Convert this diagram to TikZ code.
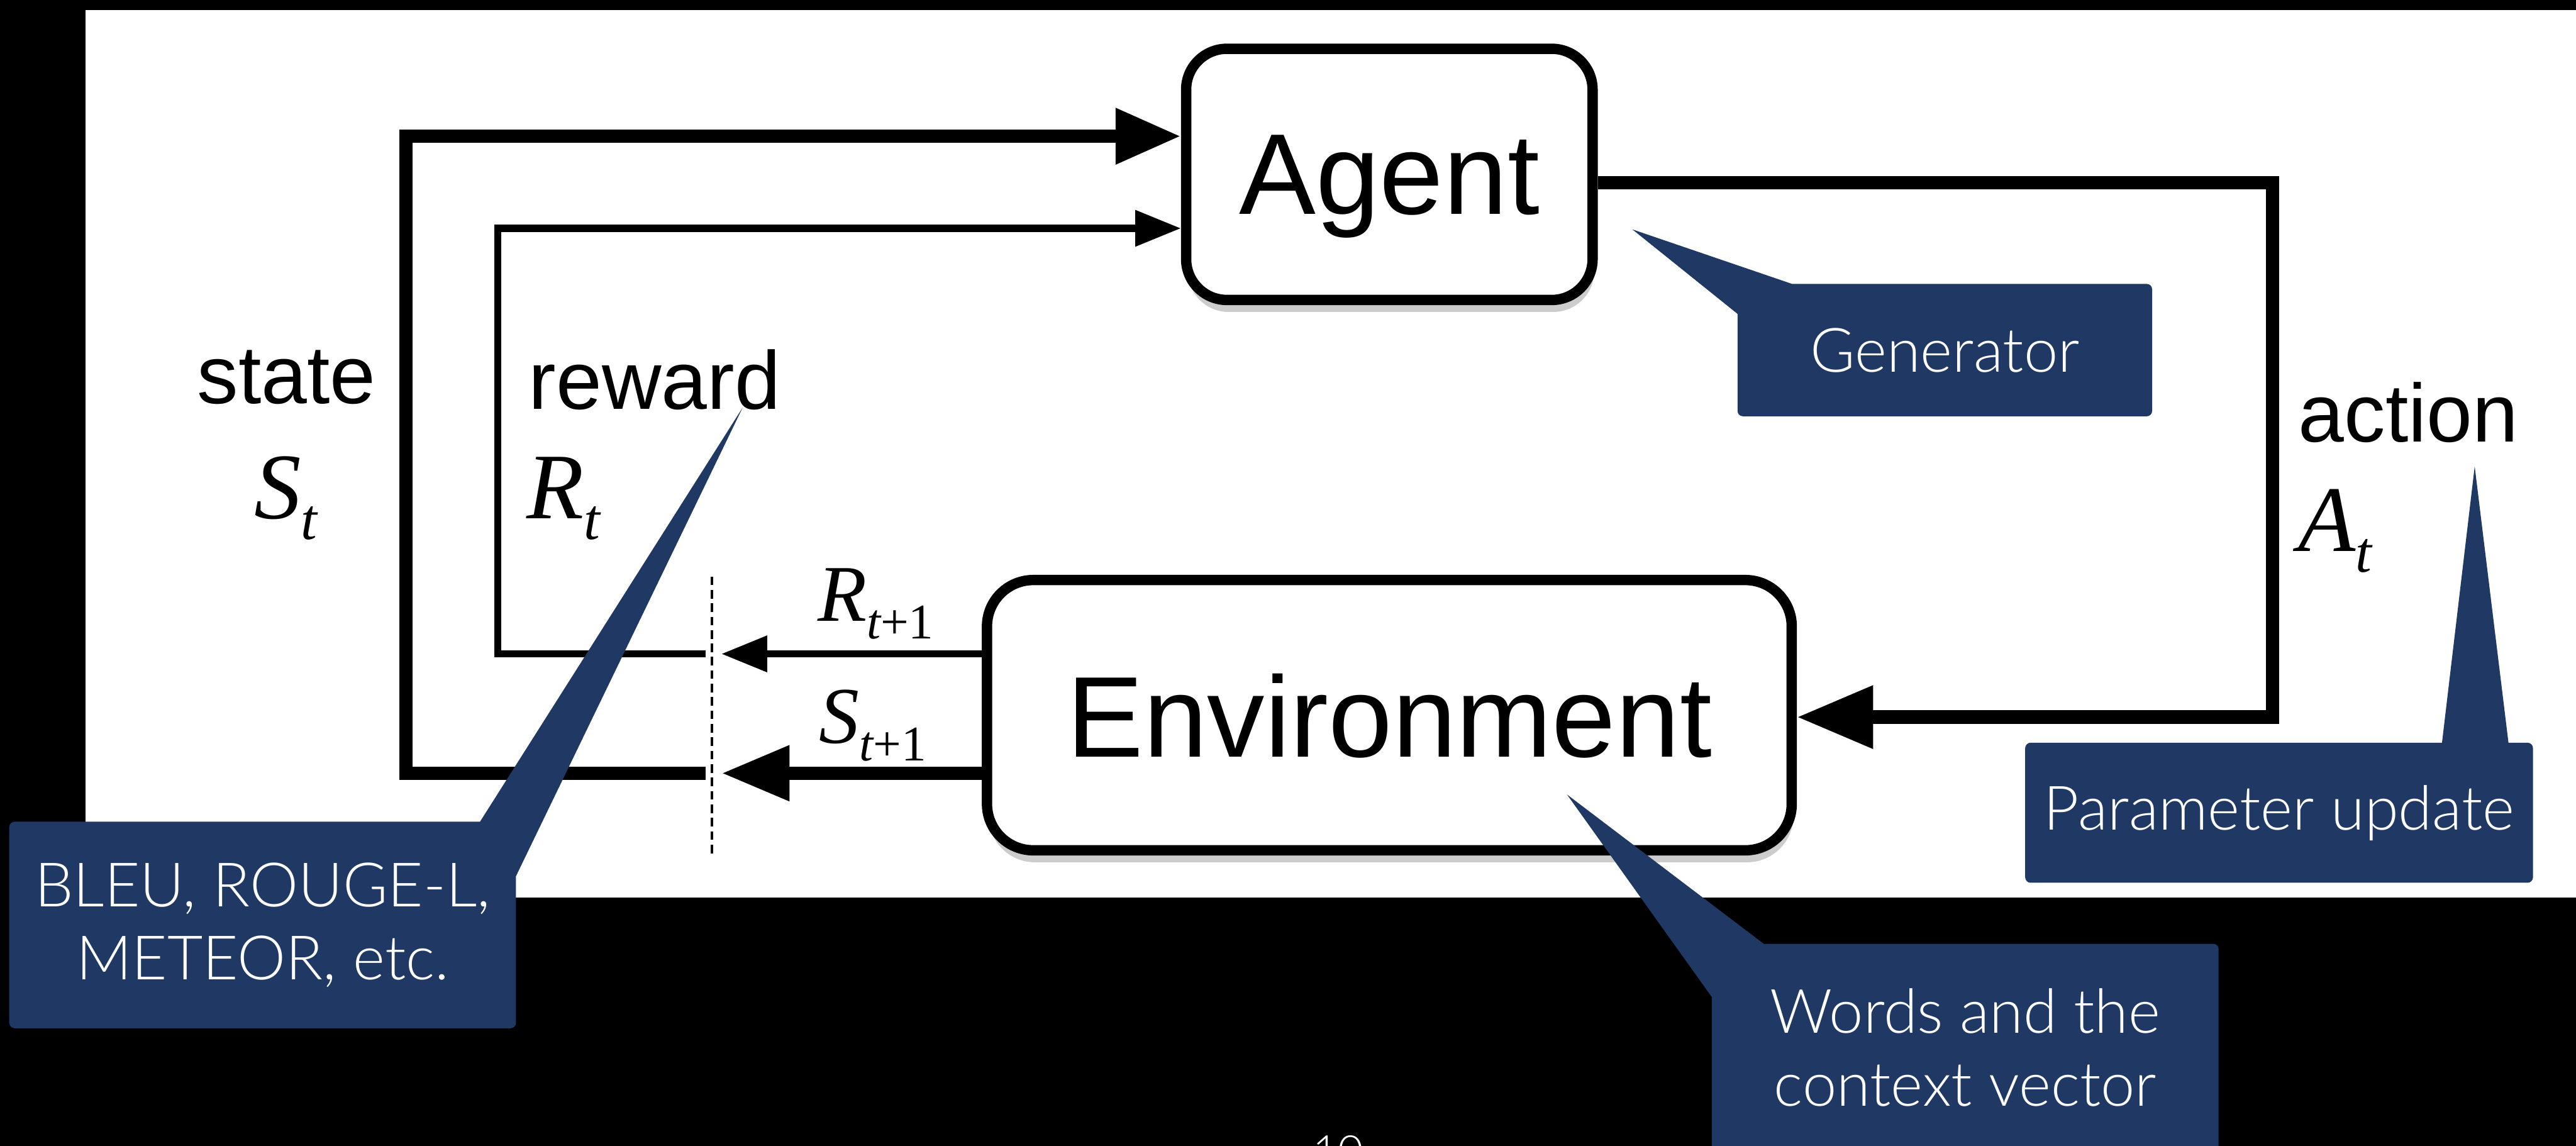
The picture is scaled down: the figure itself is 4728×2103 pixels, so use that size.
\documentclass[tikz,border=0pt]{standalone}
\usepackage{fontspec}
\setmainfont{Liberation Sans}
\newfontfamily\varfont{Liberation Serif}
\newfontfamily\calloutfont{Lato Light}
\usetikzlibrary{arrows.meta,positioning,shadows}
\definecolor{calloutblue}{RGB}{31,56,100}
% italic symbol with a lowered subscript
\newcommand{\rlvar}[2]{{\itshape #1}\raisebox{-0.22em}{\scalebox{0.62}{\itshape #2}}}

\begin{document}
\begin{tikzpicture}[x=0.1mm, y=-0.1mm,
  rlbox/.style={draw, line width=5.4pt, fill=white, inner sep=0pt, text depth=0pt,
    font=\fontsize{60}{72}\selectfont,
    drop shadow={shadow xshift=0.3mm, shadow yshift=-2.2mm, opacity=0.2, fill=black}},
  lbl/.style={inner sep=0pt, font=\fontsize{43}{50}\selectfont},
  varlbl/.style={inner sep=0pt, font=\varfont\fontsize{49}{56}\selectfont},
  smallvar/.style={inner sep=0pt, font=\varfont\fontsize{42}{48}\selectfont},
  thickarrow/.style={line width=7pt, -{Triangle[length=12.5mm, width=9.6mm]}},
  thinarrow/.style={line width=3.7pt, -{Triangle[length=8.4mm, width=6.4mm]}},
  cutline/.style={line width=1.4pt, dash pattern=on 4.5pt off 2.5pt},
  callout/.style={fill=calloutblue, text=white, rounded corners=1mm, inner sep=0pt,
    outer sep=0pt, align=center, font=\calloutfont\fontsize{32}{38}\selectfont},
  callouttail/.style={fill=calloutblue}]

\useasboundingbox (0,0) rectangle (4728,2103);
\clip (0,0) rectangle (4728,2103);
\fill[black] (0,0) rectangle (4728,2103);
\fill[white] (157,19) rectangle (4728,1647);

% agent and environment
\node[rlbox, minimum width=74.6mm, minimum height=46.1mm, rounded corners=7.5mm] (agent) at (2550,320) {Agent};
\node[rlbox, minimum width=147.7mm, minimum height=49.6mm, rounded corners=8.5mm, below=49.5mm of agent] (env) {Environment};

% free ends of the loops
\coordinate (dashtop) at (1307,1058);
\coordinate (dashbot) at (1307,1568);
\coordinate (sttip) at (1324,1419);
\coordinate (rwtip) at (1324,1200);
\coordinate (stend) at (1295,1419);
\coordinate (rwend) at (1295,1200);
\coordinate (stcorner) at (745,250);
\coordinate (rwcorner) at (914,419);
\coordinate (acttop) at (4171,335);
\coordinate (actbot) at (4171,1316);

\draw[cutline] (dashtop) -- (dashbot);
\draw[thickarrow] (sttip -| env.west) -- (sttip);
\draw[thinarrow] (rwtip -| env.west) -- (rwtip);
\draw[thickarrow, -{Triangle[length=12mm, width=9.7mm]}] (stend) -| (stcorner) -- (stcorner -| agent.west);
\draw[thinarrow] (rwend) -| (rwcorner) -- (rwcorner -| agent.west);
\draw[thickarrow, -{Triangle[length=14mm, width=11mm]}] (acttop -| agent.east) -- (acttop) -- (actbot) -- (actbot -| env.east);

% labels
\node[lbl, anchor=base] (statelbl) at (526,741) {state};
\node[varlbl, anchor=base west] (stvar) at (466,952) {\rlvar{S}{t}};
\node[lbl, anchor=base west] (rewardlbl) at (970,751) {reward};
\node[varlbl, anchor=base west] (rtvar) at (966,952) {\rlvar{R}{t}};
\node[lbl, anchor=base west] (actionlbl) at (4218,811) {action};
\node[varlbl, anchor=base west] (atvar) at (4218,1012) {\rlvar{A}{t}};
\node[smallvar, anchor=base west] (rnext) at (1500,1140) {\rlvar{R}{t\upshape+1}};
\node[smallvar, anchor=base west] (snext) at (1503,1364) {\rlvar{S}{t\upshape+1}};

% callouts
\node[callout, minimum width=76.1mm, minimum height=24.3mm] (gen) at (3569.5,642.5) {Generator};
\coordinate (gentip) at (2996,421);
\fill[callouttail] (gentip) -- ([xshift=10mm]gen.north west) -- ([yshift=-5.5mm]gen.north west) -- cycle;

\node[callout, minimum width=93.2mm, minimum height=25.7mm] (param) at (4183,1491.5) {Parameter update};
\coordinate (paramtip) at (4542,856);
\fill[callouttail] (paramtip) -- ([xshift=76.5mm]param.north west) -- ([xshift=88.7mm]param.north west) -- cycle;

\node[callout, minimum width=93mm, minimum height=37.9mm] (bleu) at (482,1697.5) {BLEU, ROUGE-L,\\METEOR, etc.};
\coordinate (bleutip) at (1363,748);
\fill[callouttail] (bleutip) -- ([xshift=-6.6mm]bleu.north east) -- ([yshift=-10mm]bleu.north east) -- cycle;

\node[callout, minimum width=93mm, minimum height=38mm] (words) at (3607,1922) {Words and the\\context vector};
\coordinate (wordstip) at (2876,1458);
\fill[callouttail] (wordstip) -- ([xshift=9.5mm]words.north west) -- ([yshift=-9.8mm]words.north west) -- cycle;

% page number
\node[inner sep=0pt, anchor=north, text=white, font=\calloutfont\fontsize{23}{28}\selectfont] (pageno) at (2456,2083) {10};
\end{tikzpicture}
\end{document}
